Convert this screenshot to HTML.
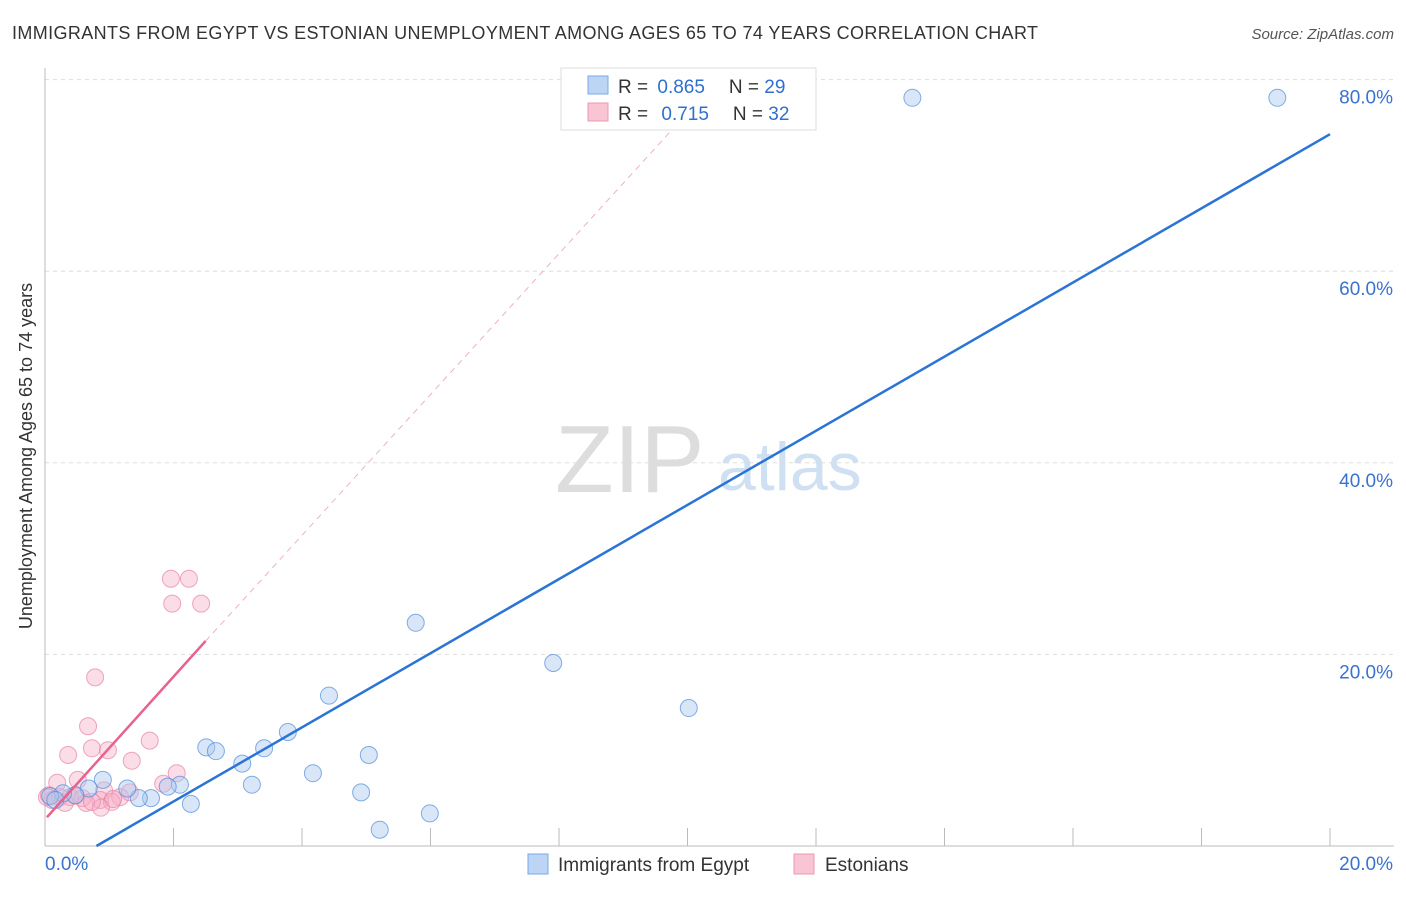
<!DOCTYPE html>
<html><head><meta charset="utf-8"><style>
body{margin:0;background:#fff;font-family:"Liberation Sans",sans-serif;}
svg text{font-family:"Liberation Sans",sans-serif;}
</style></head><body>
<svg id="c" width="1406" height="892" xmlns="http://www.w3.org/2000/svg">
<text x="12" y="39" font-size="18" fill="#333" textLength="1026">IMMIGRANTS FROM EGYPT VS ESTONIAN UNEMPLOYMENT AMONG AGES 65 TO 74 YEARS CORRELATION CHART</text>
<text x="1394" y="39" font-size="15" fill="#555" font-style="italic" text-anchor="end">Source: ZipAtlas.com</text>
<text x="32" y="456" font-size="18" fill="#333" text-anchor="middle" transform="rotate(-90 32 456)">Unemployment Among Ages 65 to 74 years</text>
<text x="555" y="492" font-size="96" fill="#ddd" font-family="Liberation Serif">ZIP</text>
<text x="718" y="490" font-size="68" fill="#cfe0f3">atlas</text>
<g id="grid"></g><g id="pts"></g><g id="lines"></g>
<g>
<rect x="561" y="68" width="255" height="62" fill="#fff" stroke="#ddd"/>
<rect x="588" y="76" width="20" height="18" fill="#bcd5f5" stroke="#7aa9e6"/>
<rect x="588" y="103" width="20" height="18" fill="#f9c5d5" stroke="#ee97b3"/>
<text x="618" y="93" font-size="19" fill="#333">R = <tspan fill="#2f6fd0" dx="4">0.865</tspan><tspan dx="24">N = </tspan><tspan fill="#2f6fd0">29</tspan></text>
<text x="618" y="120" font-size="19" fill="#333">R = <tspan fill="#2f6fd0" dx="8">0.715</tspan><tspan dx="24">N = </tspan><tspan fill="#2f6fd0">32</tspan></text>
</g>
<g>
<rect x="528" y="854" width="20" height="20" fill="#bcd5f5" stroke="#7aa9e6"/>
<text x="558" y="871" font-size="19" fill="#333">Immigrants from Egypt</text>
<rect x="794" y="854" width="20" height="20" fill="#f9c5d5" stroke="#ee97b3"/>
<text x="825" y="871" font-size="19" fill="#333">Estonians</text>
</g>
</svg>
<script>
const yTicks=[20,40,60,80];
const yTickLabels=["20.0%","40.0%","60.0%","80.0%"];
const xEndLabels=["0.0%","20.0%"];
const egyptX=[13.5,19.18,5.77,7.91,10.02,4.42,3.78,2.51,2.66,3.41,3.07,4.17,5.04,3.22,4.92,5.99,5.21,2.1,2.27,1.91,1.65,1.46,1.28,0.9,0.68,0.47,0.28,0.08,0.16];
const egyptY=[78.1,78.1,23.3,19.1,14.4,15.7,11.9,10.3,9.9,10.2,8.6,7.6,9.5,6.4,5.6,3.4,1.7,6.4,4.4,6.2,5.0,5.0,6.0,6.9,6.0,5.3,5.5,5.2,4.8];
const estX=[1.96,2.24,1.98,2.43,0.78,0.67,1.63,0.73,0.98,0.36,1.35,2.05,1.84,0.19,0.51,0.92,0.06,0.23,0.39,0.58,1.17,1.32,0.86,0.31,0.64,1.04,0.87,0.47,0.11,0.03,1.06,0.73];
const estY=[27.9,27.9,25.3,25.3,17.6,12.5,11.0,10.2,10.0,9.5,8.9,7.6,6.5,6.6,6.9,5.8,5.3,5.1,5.1,5.0,5.1,5.6,4.8,4.5,4.5,4.6,4.0,5.3,4.8,5.1,4.9,4.6];
const blueLine=[[0.8,0],[20,74.3]];
const pinkLine=[[0.03,3.0],[2.5,21.4]];
const pinkDash=[[2.5,21.4],[9.9,75.8]];
const X=v=>45+v*64.25, Y=v=>846-v*9.58;
const NS="http://www.w3.org/2000/svg";
function mk(tag,attrs,parent){const e=document.createElementNS(NS,tag);for(const k in attrs)e.setAttribute(k,attrs[k]);document.getElementById(parent).appendChild(e);return e;}
yTicks.forEach((t,i)=>{
 const g=mk('line',{x1:45,x2:1394,y1:Y(t),y2:Y(t),stroke:'#ddd','stroke-dasharray':'4,4'},'grid');
 
 
 const l=mk('text',{x:1393,y:Y(t)+24,'font-size':19,fill:'#3a72d0','text-anchor':'end'},'grid');l.textContent=yTickLabels[i];
 
 
});
const ax=mk('line',{x1:45,x2:45,y1:68,y2:846,stroke:'#bbb'},'grid');


const bx=mk('line',{x1:45,x2:1394,y1:846,y2:846,stroke:'#bbb'},'grid');


for(let i=1;i<=10;i++){const t=mk('line',{x1:X(i*2),x2:X(i*2),y1:828,y2:846,stroke:'#bbb'},'grid');
 
 }
[[0,45,'start'],[20,1393,'end']].forEach((a,i)=>{const l=mk('text',{x:a[1],y:870,'font-size':19,fill:'#3a72d0','text-anchor':a[2]},'grid');l.textContent=xEndLabels[i];
 
 });
estX.forEach((x,i)=>{const c=mk('circle',{cx:X(x),cy:Y(estY[i]),r:8.5,fill:'rgba(246,170,196,0.4)',stroke:'rgba(232,130,165,0.7)','stroke-width':1},'pts');
 
 });
egyptX.forEach((x,i)=>{const c=mk('circle',{cx:X(x),cy:Y(egyptY[i]),r:8.5,fill:'rgba(170,200,240,0.45)',stroke:'rgba(80,140,220,0.7)','stroke-width':1},'pts');
 
 });
function ln(p,st,nm){const l=mk('line',Object.assign({x1:X(p[0][0]),y1:Y(p[0][1]),x2:X(p[1][0]),y2:Y(p[1][1])},st),'lines');
 
 }
ln(blueLine,{stroke:'#2a74d6','stroke-width':2.5},'egypt-trendline');
ln(pinkLine,{stroke:'#e8628e','stroke-width':2.5},'estonians-trendline');
ln(pinkDash,{stroke:'#efb0c5','stroke-width':1,'stroke-dasharray':'6,5'},'estonians-trendline-extension');
</script>
</body></html>
